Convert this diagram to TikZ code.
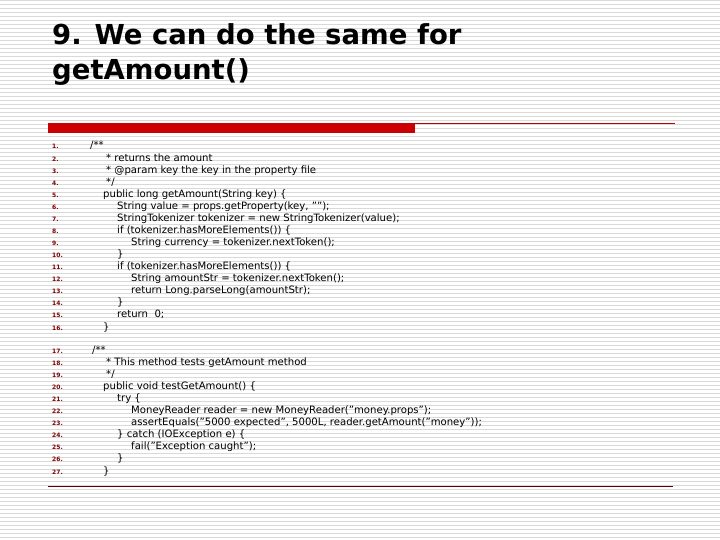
\documentclass[tikz,border=0pt]{standalone}
\usepackage{fontspec}
\setmainfont{DejaVu Sans}
\newcommand\qq{\char34\relax}
\begin{document}
\begin{tikzpicture}[x=1pt,y=-1pt,
  title/.style={anchor=base west,inner sep=0pt,font=\bfseries\fontsize{27.5}{30}\selectfont},
  num/.style={anchor=base west,inner sep=0pt,font=\bfseries\fontsize{6}{7}\selectfont,text=red!50!black},
  code/.style={anchor=base west,inner sep=0pt,font=\fontsize{10.1}{11}\selectfont}]
\useasboundingbox (0,0) rectangle (720,540);
\fill[white] (0,0) rectangle (720,540);
\foreach \yy in {1,5,...,540} \draw[black!15,line width=1pt] (0,\yy) -- (720,\yy);
\node[title] (t1) at (52,45) {9. We can do the same for};
\node[title] (t2) at (52,80) {getAmount()};
\fill[red!80!black] (48,123) rectangle (415,133);
\draw[red!75!black,line width=0.8pt] (415,123.5) -- (675,123.5);
\draw[red!40!black,line width=1pt] (48,486) -- (673,486);
\foreach \n/\x/\t [count=\i] in {
 1/90/{/**},
 2/106/{* returns the amount},
 3/106/{* @param key the key in the property file},
 4/106/{*/},
 5/103/{public long getAmount(String key) \{},
 6/117/{String value = props.getProperty(key, \qq\qq);},
 7/117/{StringTokenizer tokenizer = new StringTokenizer(value);},
 8/117/{if (tokenizer.hasMoreElements()) \{},
 9/131/{String currency = tokenizer.nextToken();},
 10/117/{\}},
 11/117/{if (tokenizer.hasMoreElements()) \{},
 12/131/{String amountStr = tokenizer.nextToken();},
 13/131/{return Long.parseLong(amountStr);},
 14/117/{\}},
 15/117/{return\ \ 0;},
 16/103/{\}}}{
 \pgfmathsetmacro\yy{149+(\i-1)*12.07}
 \node[num] (n\n) at (52,\yy) {\n.};
 \node[code] (c\n) at (\x,\yy) {\t};
}
\foreach \n/\x/\t [count=\i] in {
 17/92/{/**},
 18/106/{* This method tests getAmount method},
 19/106/{*/},
 20/103/{public void testGetAmount() \{},
 21/117/{try \{},
 22/131/{MoneyReader reader = new MoneyReader(\qq money.props\qq);},
 23/131/{assertEquals(\qq 5000 expected\qq, 5000L, reader.getAmount(\qq money\qq));},
 24/117/{\} catch (IOException e) \{},
 25/131/{fail(\qq Exception caught\qq);},
 26/117/{\}},
 27/103/{\}}}{
 \pgfmathsetmacro\yy{353+(\i-1)*12.1}
 \node[num] (n\n) at (52,\yy) {\n.};
 \node[code] (c\n) at (\x,\yy) {\t};
}
\end{tikzpicture}
\end{document}
